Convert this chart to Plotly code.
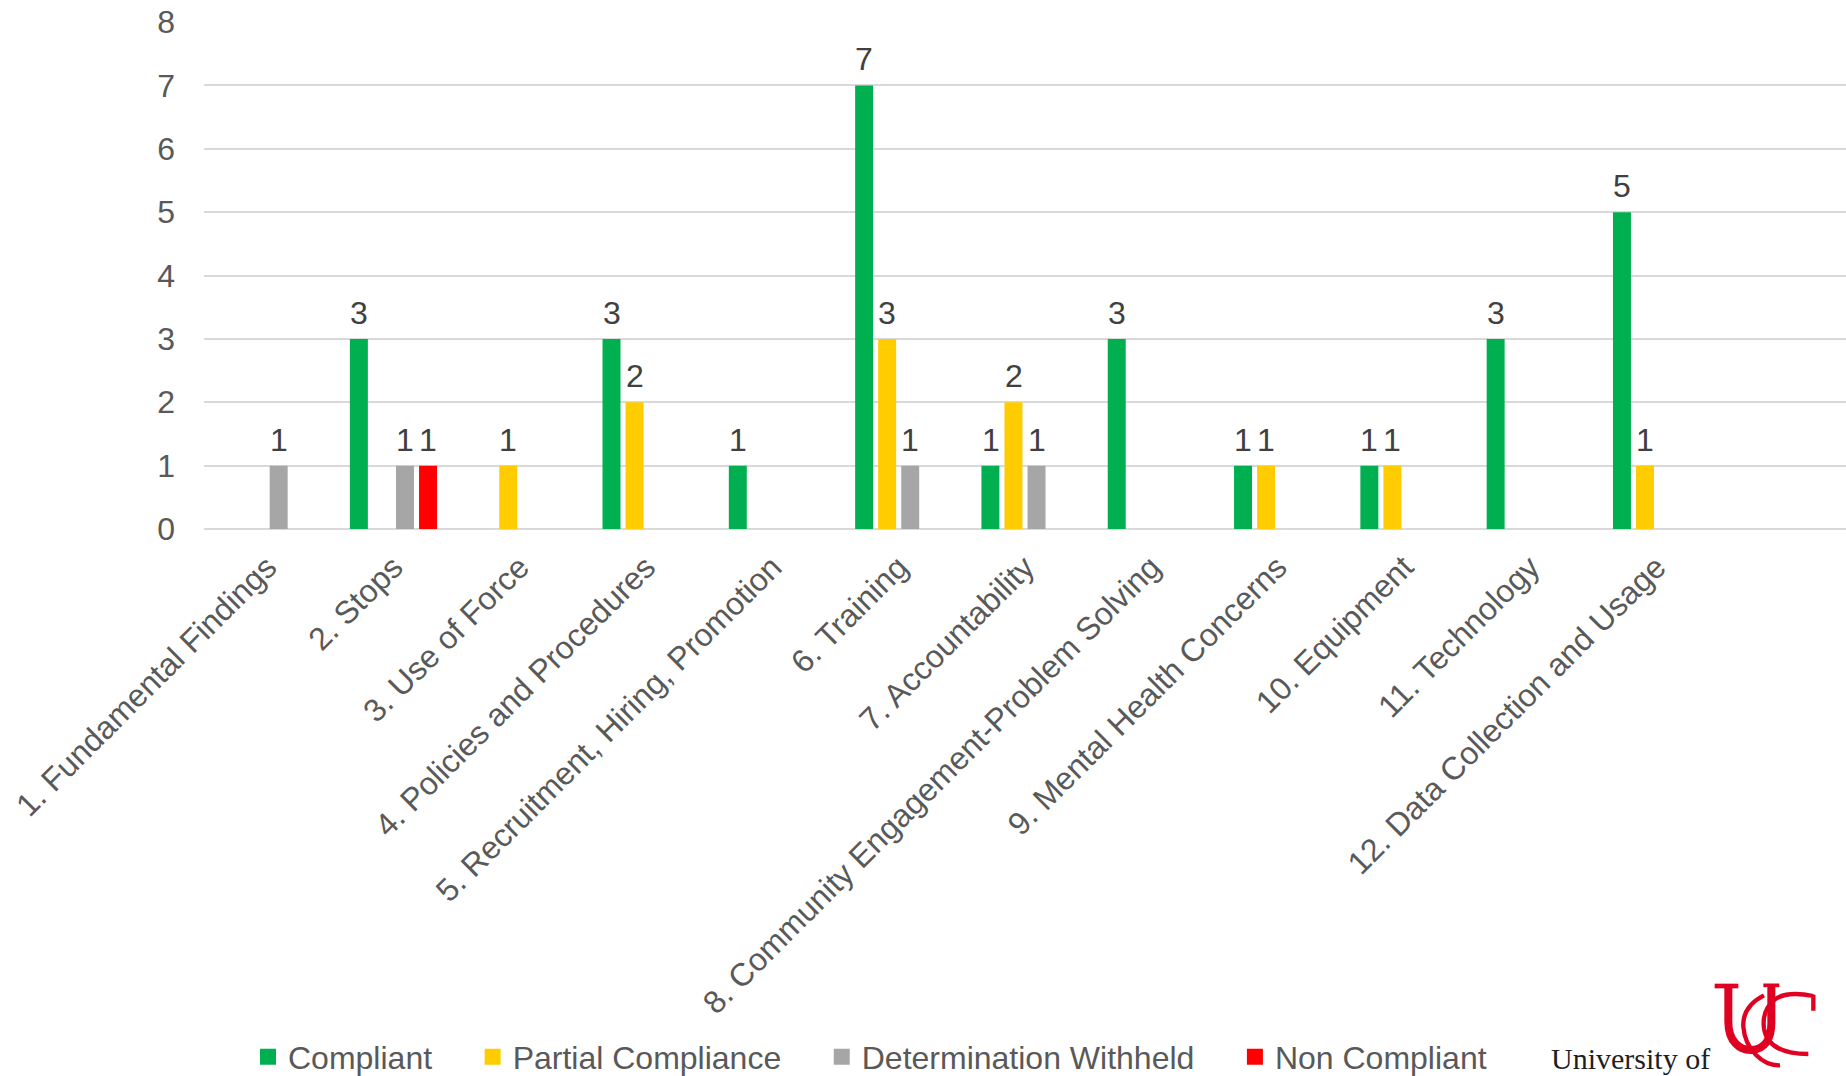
import base64
import plotly.graph_objects as go

categories = [
    "1. Fundamental Findings", "2. Stops", "3. Use of Force",
    "4. Policies and Procedures", "5. Recruitment, Hiring, Promotion",
    "6. Training", "7. Accountability", "8. Community Engagement-Problem Solving",
    "9. Mental Health Concerns", "10. Equipment", "11. Technology",
    "12. Data Collection and Usage", " ",
]
compliant = [None, 3, None, 3, 1, 7, 1, 3, 1, 1, 3, 5, None]
partial = [None, None, 1, 2, None, 3, 2, None, 1, 1, None, 1, None]
withheld = [1, 1, None, None, None, 1, 1, None, None, None, None, None, None]
non_compliant = [None, 1, None, None, None, None, None, None, None, None, None, None, None]

series = [
    ("Compliant", compliant, "#00B050"),
    ("Partial Compliance", partial, "#FFCC00"),
    ("Determination Withheld", withheld, "#A6A6A6"),
    ("Non Compliant", non_compliant, "#FF0000"),
]

WIDTH, HEIGHT = 1846, 1076
LEFT, TOP, BOTTOM = 204, 22, 547
plot_w, plot_h = WIDTH - LEFT, HEIGHT - TOP - BOTTOM
BAR_PITCH = 23  # horizontal distance between neighbouring bars in a group, px

FONT = "Liberation Sans, Arial, sans-serif"
LEGEND_PAD = "\u00a0" * 4

fig = go.Figure()
for idx, (name, values, color) in enumerate(series):
    fig.add_bar(
        name=name, x=categories, y=values, marker_color=color, marker_line_width=0,
        showlegend=False,
    )
    # Square legend keys sized independently of the bars
    fig.add_scatter(
        name=name + LEGEND_PAD, x=[None], y=[None], mode="markers",
        marker=dict(symbol="square", size=16, color=color),
        showlegend=True,
    )
    # Value labels sit a little higher than the default outside-bar position
    for cat, val in zip(categories, values):
        if val is not None:
            fig.add_annotation(
                x=cat, y=val, text=str(val), showarrow=False,
                xshift=(idx - 1.5) * BAR_PITCH, yshift=6, yanchor="bottom",
                font=dict(size=32, color="#404040", family=FONT),
            )

# University crest, drawn as stroked outlines
crest = """<svg xmlns='http://www.w3.org/2000/svg' viewBox='0 0 1098 348' width='1098' height='348'>
<g fill='none' stroke='#E00122' stroke-linecap='butt'>
<path d='M704 78 H775' stroke-width='14'/>
<path d='M850 76 H898' stroke-width='11'/>
<path d='M745 80 V185 C745 245 780 272 815 270 C855 268 874 235 874 190 V78' stroke-width='24' stroke-linejoin='round'/>
<path d='M852 106 C805 130 788 165 790 200 C795 270 850 318 900 316' stroke-width='13'/>
<path d='M1000 152 V104 M1000 108 C950 98 910 100 885 118 C855 142 848 175 852 205 C860 255 900 282 985 282' stroke-width='13'/>
</g></svg>"""
crest_uri = "data:image/svg+xml;base64," + base64.b64encode(crest.encode()).decode()

fig.add_layout_image(
    source=crest_uri, xref="paper", yref="paper",
    x=(1480 - LEFT) / plot_w, y=(HEIGHT - BOTTOM - 960) / plot_h,
    sizex=366 / plot_w, sizey=116 / plot_h,
    xanchor="left", yanchor="top", sizing="stretch", layer="above",
)

fig.add_annotation(
    text="University of", xref="paper", yref="paper",
    x=(1549 - LEFT) / plot_w, y=(HEIGHT - BOTTOM - 1058) / plot_h,
    xanchor="left", yanchor="middle", showarrow=False,
    font=dict(family="Liberation Serif, Times New Roman, serif", size=30, color="#1F1F1F"),
)

fig.update_layout(
    width=WIDTH, height=HEIGHT,
    margin=dict(l=LEFT, r=0, t=TOP, b=BOTTOM, pad=0, autoexpand=False),
    paper_bgcolor="white", plot_bgcolor="white",
    barmode="group", bargap=0.27, bargroupgap=0.22,
    font=dict(family=FONT, color="#595959"),
    legend=dict(
        orientation="h", x=(248 - LEFT) / plot_w, xanchor="left",
        y=(HEIGHT - BOTTOM - 1057) / plot_h, yanchor="middle",
        font=dict(size=32, color="#595959", family=FONT),
        bgcolor="rgba(0,0,0,0)", itemclick=False, itemdoubleclick=False,
    ),
    xaxis=dict(
        type="category", categoryorder="array", categoryarray=categories,
        tickangle=-45, tickfont=dict(size=32, color="#595959", family=FONT),
        showgrid=False, ticks="", showline=False, automargin=False,
        ticklabelstandoff=12,
    ),
    yaxis=dict(
        range=[0, 8], tickvals=list(range(9)),
        tickfont=dict(size=32, color="#595959", family=FONT),
        gridcolor="#D9D9D9", gridwidth=2, zeroline=True, zerolinecolor="#D9D9D9",
        zerolinewidth=2, ticks="", showline=False, automargin=False,
        ticklabelstandoff=28,
    ),
)

fig.write_html("out.html")
